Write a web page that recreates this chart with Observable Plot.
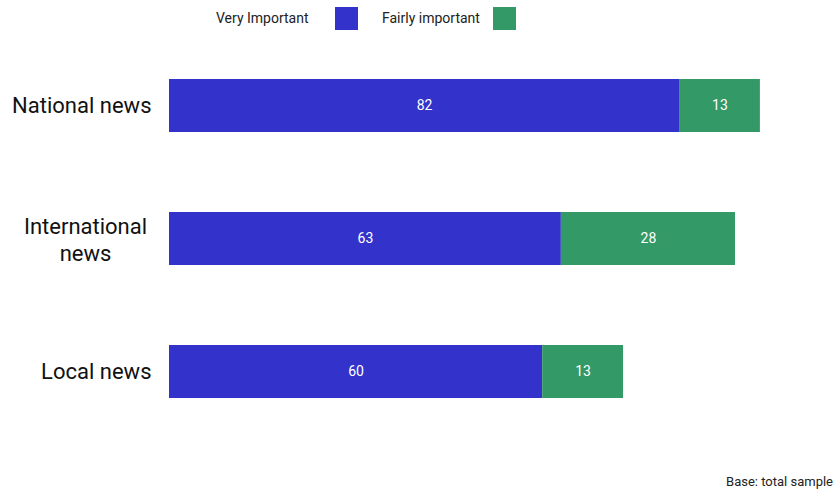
<!DOCTYPE html>
<html>
<head>
<meta charset="utf-8">
<script src="https://cdn.jsdelivr.net/npm/d3@7"></script>
<script src="https://cdn.jsdelivr.net/npm/@observablehq/plot@0.6"></script>
<style>
  body { margin: 0; background: #fff; font-family: Roboto, "Noto Sans", sans-serif; }
  #wrap { position: relative; width: 834px; height: 490px; overflow: hidden; }
  #legend { position: absolute; top: 7px; left: 0; height: 23px; width: 834px; font-size: 14px; color: #222; }
  .li { position: absolute; top: 0; height: 23px; line-height: 23px; }
  .sw { position: absolute; top: 0; width: 23px; height: 23px; }
  #caption { position: absolute; right: 1px; top: 474px; font-size: 13px; color: #222; }
  #chart { position: absolute; top: 0; left: 0; }
</style>
</head>
<body>
<div id="wrap">
  <div id="chart"></div>
  <div id="legend"></div>
  <div id="caption">Base: total sample</div>
</div>
<script>
const categories = ["National news", "International news", "Local news"];
const seriesNames = ["Very Important", "Fairly important"];
const veryImportant = [82, 63, 60];
const fairlyImportant = [13, 28, 13];
const colors = ["#3333cc", "#339966"];

const data = [];
categories.forEach((c, i) => {
  data.push({cat: c, series: seriesNames[0], value: veryImportant[i]});
  data.push({cat: c, series: seriesNames[1], value: fairlyImportant[i]});
});

const wrapped = categories.filter(c => c === "International news");
const single = categories.filter(c => c !== "International news");

const chart = Plot.plot({
  width: 834,
  height: 490,
  marginLeft: 169,
  marginRight: 43,
  marginTop: 0,
  marginBottom: 13,
  style: {fontFamily: "Roboto, 'Noto Sans', sans-serif", background: "transparent"},
  x: {domain: [0, 100], axis: null},
  y: {domain: categories, axis: null, paddingInner: 0.6, paddingOuter: 0.584},
  color: {domain: seriesNames, range: colors},
  marks: [
    Plot.barX(data, Plot.stackX({x: "value", y: "cat", fill: "series", order: seriesNames})),
    Plot.text(data, Plot.stackX({x: "value", y: "cat", z: "series", order: seriesNames, text: d => String(d.value), fill: "white", fontSize: 14})),
    Plot.text(single, {y: d => d, text: d => d, frameAnchor: "left", textAnchor: "end", dx: -18, fontSize: 22, fill: "#111"}),
    Plot.text(wrapped, {y: d => d, text: d => d.replace(" ", "\n"), frameAnchor: "left", textAnchor: "middle", dx: -84, fontSize: 22, fill: "#111", lineHeight: 1.2})
  ]
});
document.getElementById("chart").appendChild(chart);

const legend = document.getElementById("legend");
const legendPos = [{text: 216, sw: 335}, {text: 382, sw: 493}];
seriesNames.forEach((s, i) => {
  const t = document.createElement("div");
  t.className = "li"; t.style.left = legendPos[i].text + "px"; t.textContent = s;
  legend.appendChild(t);
  const sw = document.createElement("div");
  sw.className = "sw"; sw.style.left = legendPos[i].sw + "px"; sw.style.background = colors[i];
  legend.appendChild(sw);
});
</script>
</body>
</html>
